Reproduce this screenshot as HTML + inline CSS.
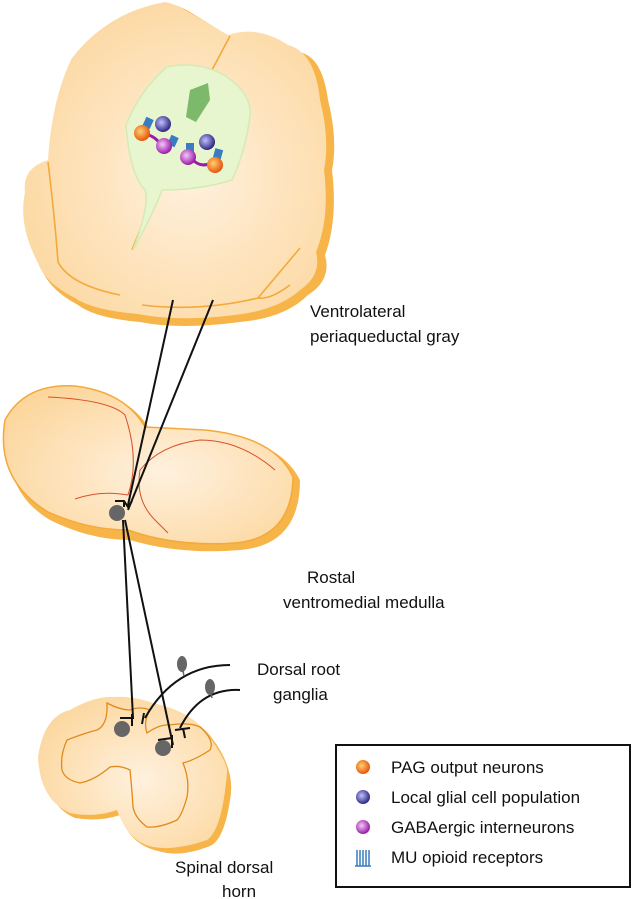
<!DOCTYPE html>
<html><head><meta charset="utf-8"><style>
html,body{margin:0;padding:0;background:#fff}
svg{display:block}
text{font-family:"Liberation Sans",Arial,sans-serif;font-size:17px;fill:#111}
</style></head><body>
<svg width="633" height="899" viewBox="0 0 633 899" xmlns="http://www.w3.org/2000/svg">
<defs>
<radialGradient id="fill" cx="0.55" cy="0.55" r="0.65"><stop offset="0" stop-color="#fff1de"/><stop offset="1" stop-color="#fcd69c"/></radialGradient>
<radialGradient id="og" cx="0.4" cy="0.4" r="0.6"><stop offset="0" stop-color="#ffd070"/><stop offset="1" stop-color="#e8560e"/></radialGradient>
<radialGradient id="bg" cx="0.4" cy="0.4" r="0.6"><stop offset="0" stop-color="#c0c0ff"/><stop offset="1" stop-color="#2e2a80"/></radialGradient>
<radialGradient id="pg" cx="0.4" cy="0.4" r="0.6"><stop offset="0" stop-color="#f4c8f8"/><stop offset="1" stop-color="#9a1ca8"/></radialGradient>
</defs>
<!-- PAG -->
<path d="M170 4 Q180 6 190 12 L232 38 Q262 28 292 50 L298 52 Q322 55 328 100 Q338 140 332 170 Q338 220 325 255 Q332 280 308 295 Q285 318 240 322 Q180 330 140 322 Q95 318 78 305 Q50 290 42 270 Q22 230 28 195 Q25 170 50 162 Q55 100 75 60 Q110 15 170 4Z" fill="#f7b549"/>
<path d="M165 2 Q175 4 185 10 L228 35 Q258 25 288 45 Q315 52 320 100 Q330 140 324 170 Q330 218 316 252 Q322 275 300 290 Q278 310 235 315 Q178 322 138 314 Q92 310 75 298 Q45 283 38 263 Q18 225 25 192 Q22 168 48 160 Q52 98 72 58 Q108 12 165 2Z" fill="url(#fill)"/>
<path d="M230 36 L212 70 M155 192 L132 250 M48 162 Q55 220 58 262 Q70 285 120 295 M142 305 Q200 312 258 298 L300 248 M258 298 Q270 300 290 285" fill="none" stroke="#f4a93a" stroke-width="1.6"/>
<path d="M167 67 Q200 60 227 77 Q252 95 250 115 Q246 150 232 180 Q200 190 162 190 Q155 210 133 250 Q150 205 145 190 Q130 175 126 125 Q140 90 167 67Z" fill="#e8f6cf" stroke="#d4ebb4" stroke-width="1.5"/>
<path d="M190 90 L208 83 L210 100 L196 122 L186 117Z" fill="#7cb96a"/>
<g stroke="#9a1ca8" stroke-width="3" fill="none"><path d="M146 134 Q156 137 160 144"/><path d="M193 160 Q201 168 211 163"/></g>
<g fill="#3a7cc0"><rect x="144" y="118" width="8" height="10" transform="rotate(25 148 123)"/><rect x="169" y="136" width="8" height="10" transform="rotate(25 173 141)"/><rect x="186" y="143" width="8" height="10"/><rect x="214" y="149" width="8" height="10" transform="rotate(15 218 154)"/></g>
<circle cx="142" cy="133" r="8" fill="url(#og)"/><circle cx="163" cy="124" r="8" fill="url(#bg)"/><circle cx="164" cy="146" r="8" fill="url(#pg)"/>
<circle cx="207" cy="142" r="8" fill="url(#bg)"/><circle cx="188" cy="157" r="8" fill="url(#pg)"/><circle cx="215" cy="165" r="8" fill="url(#og)"/>
<!-- Medulla -->
<path d="M10 425 Q30 385 80 388 Q130 395 150 430 Q170 430 210 433 Q280 440 300 480 Q300 545 240 550 Q180 555 130 540 Q90 540 50 520 Q0 490 10 425Z" fill="#f7b549"/>
<path d="M5 420 Q25 383 75 386 Q125 392 145 427 Q165 428 205 430 Q275 437 293 477 Q292 538 235 543 Q175 547 128 530 Q88 530 48 512 Q-5 480 5 420Z" fill="url(#fill)" stroke="#f4a93a" stroke-width="1.5"/>
<path d="M48 397 Q110 400 125 415 Q140 460 128 495 Q100 490 75 499 M275 470 Q240 440 200 440 Q160 445 140 470 Q135 500 155 520 Q165 530 168 533" fill="none" stroke="#d8502a" stroke-width="1"/>
<!-- Spinal cord -->
<path d="M44 762 Q50 720 76 714 Q100 700 118 701 Q140 700 158 707 Q195 715 212 738 Q236 770 230 800 Q224 840 210 846 Q180 858 158 851 Q130 845 120 815 Q100 822 75 818 Q45 805 44 762Z" fill="#f7b549"/>
<path d="M38 757 Q44 716 70 710 Q95 696 113 697 Q135 696 153 703 Q190 711 207 733 Q229 764 227 773 Q222 830 207 840 Q175 851 153 847 Q128 842 117 810 Q95 818 70 813 Q40 800 38 757Z" fill="url(#fill)"/>
<path d="M107 703 Q120 710 130 710 Q140 706 150 710 Q143 722 147 733 Q160 724 170 725 Q190 722 200 727 Q215 740 210 750 Q195 760 183 763 Q190 780 187 797 Q182 815 177 820 Q160 828 147 827 Q135 818 133 807 Q132 790 130 770 Q120 765 110 767 Q95 780 80 783 Q65 780 62 770 Q60 755 67 740 Q85 733 97 730 Q108 725 107 703Z" fill="none" stroke="#e08a1a" stroke-width="1.3"/>
<!-- connectors -->
<g stroke="#111" stroke-width="2" fill="none">
<path d="M173 300 L128 505"/><path d="M213 300 L128 510"/>
<path d="M115 501 L124 501 L128 507 L132 501 M124 501 L124 507"/>
<path d="M123 520 L133 718"/><path d="M125 520 L173 745"/>
<path d="M120 718 L134 718 M132 714 L132 726"/><path d="M158 740 L172 738 M172 735 L172 748"/>
<path d="M230 665 Q175 665 145 718 M144 713 L142 724"/><path d="M240 690 Q200 688 180 728 M175 730 L190 728 M183 728 L185 738"/>
</g>
<g fill="#666"><circle cx="122" cy="729" r="8"/><circle cx="117" cy="513" r="8"/><circle cx="163" cy="748" r="8"/>
<ellipse cx="182" cy="664" rx="5" ry="8"/><ellipse cx="210" cy="687" rx="5" ry="8"/></g>
<g stroke="#666" stroke-width="1.5"><path d="M183 671 L184 676"/><path d="M211 694 L212 698"/></g>
<!-- labels -->
<text x="310" y="317">Ventrolateral</text><text x="310" y="342">periaqueductal gray</text>
<text x="307" y="583">Rostal</text><text x="283" y="608">ventromedial medulla</text>
<text x="257" y="675">Dorsal root</text><text x="273" y="700">ganglia</text>
<text x="175" y="873">Spinal dorsal</text><text x="222" y="897">horn</text>
<!-- legend -->
<rect x="336" y="745" width="294" height="142" fill="#fff" stroke="#111" stroke-width="2"/>
<circle cx="363" cy="767" r="7" fill="url(#og)"/><text x="391" y="773">PAG output neurons</text>
<circle cx="363" cy="797" r="7" fill="url(#bg)"/><text x="391" y="803">Local glial cell population</text>
<circle cx="363" cy="827" r="7" fill="url(#pg)"/><text x="391" y="833">GABAergic interneurons</text>
<g stroke="#3a7cc0" stroke-width="1.5"><path d="M357 850 v16 M360 850 v16 M363 850 v16 M366 850 v16 M369 850 v16 M355 866 h16"/></g>
<text x="391" y="863">MU opioid receptors</text>
</svg>
</body></html>
